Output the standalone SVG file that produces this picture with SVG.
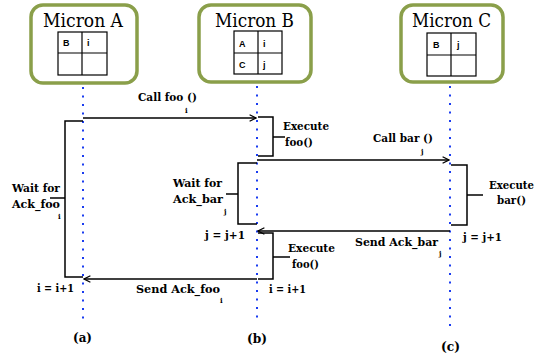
<svg xmlns="http://www.w3.org/2000/svg" width="538" height="358" viewBox="0 0 538 358">
<defs>
<marker id="arr" viewBox="0 0 10 10" refX="9" refY="5" markerWidth="8" markerHeight="8" markerUnits="userSpaceOnUse" orient="auto">
<path d="M1,1 L9,5 L1,9" fill="none" stroke="#000" stroke-width="1.6"/>
</marker>
</defs>
<style>
.box{fill:#fff;stroke:#8a9f4a;stroke-width:3.5}
.title{font-family:'DejaVu Serif',serif;font-size:18.5px;fill:#000}
.cell{fill:none;stroke:#000;stroke-width:1.2}
.ct{font-family:'Liberation Sans',Arial,sans-serif;font-weight:bold;font-size:9px;fill:#000}
.life{stroke:#1a3cf0;stroke-width:2;stroke-dasharray:2 6.5;fill:none}
.msg{stroke:#000;stroke-width:1.5;fill:none;marker-end:url(#arr)}
.br{stroke:#000;stroke-width:1.5;fill:none}
.lb{font-family:'DejaVu Serif',serif;font-weight:bold;font-size:11px;fill:#000}
.sub{font-family:'DejaVu Serif',serif;font-weight:bold;font-size:7px;fill:#000}
.cap{font-family:'DejaVu Serif',serif;font-weight:bold;font-size:13px;fill:#000}
</style>
<rect width="538" height="358" fill="#fff"/>
<g id="micronA">
<rect class="box" x="31" y="5" width="106" height="78" rx="12"/>
<text class="title" x="43" y="27" textLength="80" lengthAdjust="spacingAndGlyphs">Micron A</text>
<rect class="cell" x="58" y="32" width="49" height="43"/>
<line class="cell" x1="82" y1="32" x2="82" y2="75"/>
<line class="cell" x1="58" y1="53" x2="107" y2="53"/>
<text class="ct" x="63" y="46">B</text>
<text class="ct" x="87" y="46">i</text>
</g>
<g id="micronB">
<rect class="box" x="199" y="5" width="112" height="77" rx="12"/>
<text class="title" x="215" y="27" textLength="79" lengthAdjust="spacingAndGlyphs">Micron B</text>
<rect class="cell" x="234" y="31" width="48" height="43"/>
<line class="cell" x1="258" y1="31" x2="258" y2="74"/>
<line class="cell" x1="234" y1="53" x2="282" y2="53"/>
<text class="ct" x="239" y="47">A</text>
<text class="ct" x="263" y="47">i</text>
<text class="ct" x="239" y="68">C</text>
<text class="ct" x="263" y="68">j</text>
</g>
<g id="micronC">
<rect class="box" x="401" y="5" width="102" height="77" rx="12"/>
<text class="title" x="412" y="27" textLength="79" lengthAdjust="spacingAndGlyphs">Micron C</text>
<rect class="cell" x="427" y="33" width="49" height="43"/>
<line class="cell" x1="451" y1="33" x2="451" y2="76"/>
<line class="cell" x1="427" y1="55" x2="476" y2="55"/>
<text class="ct" x="433" y="48">B</text>
<text class="ct" x="457" y="48">j</text>
</g>
<g id="lifelines">
<line class="life" x1="83" y1="87" x2="83" y2="320"/>
<line class="life" x1="257" y1="86" x2="257" y2="322"/>
<line class="life" x1="450" y1="86" x2="450" y2="330"/>
</g>
<g id="connectors">
<line class="msg" x1="83" y1="118" x2="256" y2="118"/>
<line class="msg" x1="257" y1="160" x2="449" y2="160"/>
<line class="msg" x1="450" y1="231" x2="258" y2="231"/>
<line class="msg" x1="257" y1="279" x2="84" y2="279"/>
<polyline class="br" points="83,121 65,121 65,277 83,277"/>
<line class="br" x1="50" y1="198" x2="65" y2="198"/>
<polyline class="br" points="258,117 273,117 273,156 258,156"/>
<line class="br" x1="273" y1="137" x2="285" y2="137"/>
<polyline class="br" points="257,163 238,163 238,224 257,224"/>
<line class="br" x1="226" y1="194" x2="238" y2="194"/>
<polyline class="br" points="451,165 467,165 467,225 451,225"/>
<line class="br" x1="467" y1="195" x2="483" y2="195"/>
<polyline class="br" points="258,233 273,233 273,279 258,279"/>
<line class="br" x1="273" y1="257" x2="290" y2="257"/>
</g>
<g id="labels">
<text class="lb" x="138" y="101" textLength="59" lengthAdjust="spacingAndGlyphs">Call foo ()</text>
<text class="sub" x="185" y="113">i</text>
<text class="lb" x="373" y="142" textLength="60" lengthAdjust="spacingAndGlyphs">Call bar ()</text>
<text class="sub" x="421" y="154">j</text>
<text class="lb" x="283" y="130" textLength="46" lengthAdjust="spacingAndGlyphs">Execute</text>
<text class="lb" x="285" y="146" textLength="28" lengthAdjust="spacingAndGlyphs">foo()</text>
<text class="lb" x="12" y="192" textLength="48" lengthAdjust="spacingAndGlyphs">Wait for</text>
<text class="lb" x="12" y="208" textLength="48" lengthAdjust="spacingAndGlyphs">Ack_foo</text>
<text class="sub" x="58" y="219">i</text>
<text class="lb" x="173" y="187" textLength="49" lengthAdjust="spacingAndGlyphs">Wait for</text>
<text class="lb" x="173" y="203" textLength="50" lengthAdjust="spacingAndGlyphs">Ack_bar</text>
<text class="sub" x="224" y="214">j</text>
<text class="lb" x="489" y="189" font-size="10" textLength="45" lengthAdjust="spacingAndGlyphs">Execute</text>
<text class="lb" x="497" y="204" textLength="29" lengthAdjust="spacingAndGlyphs">bar()</text>
<text class="lb" x="205" y="239" textLength="40" lengthAdjust="spacingAndGlyphs">j = j+1</text>
<text class="lb" x="463" y="241" textLength="39" lengthAdjust="spacingAndGlyphs">j = j+1</text>
<text class="lb" x="355" y="246" textLength="83" lengthAdjust="spacingAndGlyphs">Send Ack_bar</text>
<text class="sub" x="439" y="256">j</text>
<text class="lb" x="288" y="252" textLength="47" lengthAdjust="spacingAndGlyphs">Execute</text>
<text class="lb" x="292" y="268" textLength="27" lengthAdjust="spacingAndGlyphs">foo()</text>
<text class="lb" x="37" y="292" textLength="37" lengthAdjust="spacingAndGlyphs">i = i+1</text>
<text class="lb" x="269" y="293" textLength="37" lengthAdjust="spacingAndGlyphs">i = i+1</text>
<text class="lb" x="136" y="293" textLength="84" lengthAdjust="spacingAndGlyphs">Send  Ack_foo</text>
<text class="sub" x="220" y="303">i</text>
<text class="cap" x="73" y="342" textLength="19" lengthAdjust="spacingAndGlyphs">(a)</text>
<text class="cap" x="247" y="343" textLength="20" lengthAdjust="spacingAndGlyphs">(b)</text>
<text class="cap" x="441" y="351" textLength="19" lengthAdjust="spacingAndGlyphs">(c)</text>
</g>
</svg>
